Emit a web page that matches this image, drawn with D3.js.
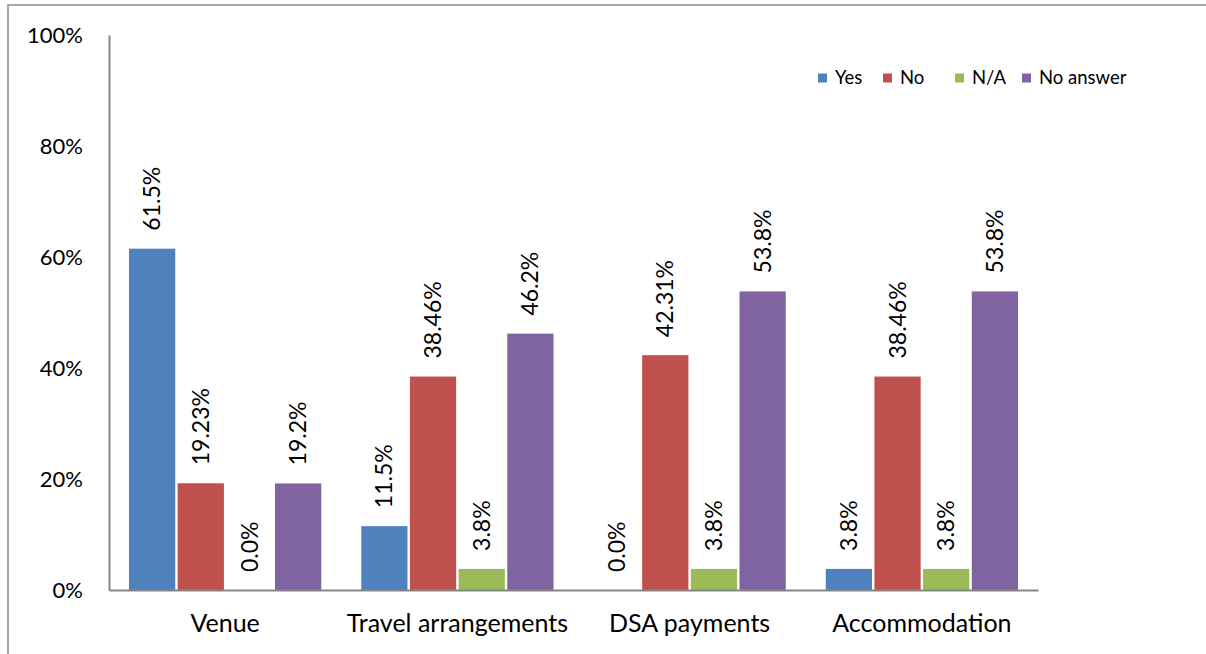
<!DOCTYPE html>
<html lang="en">
  <head>
    <meta charset="utf-8" />
    <script src="https://cdn.jsdelivr.net/npm/d3@7"></script>
    <style>
      body {
        margin: 0;
        background: #fff;
      }
      svg {
        font-family: Lato, "Open Sans", sans-serif;
      }
    </style>
  </head>
  <body>
    <svg width="1206" height="654"></svg>
    <script>
      // chart data
      var categories = ["Venue", "Travel arrangements", "DSA payments", "Accommodation"];
      var series = ["Yes", "No", "N/A", "No answer"];
      var yes = [61.5, 11.5, 0.0, 3.8];
      var no = [19.23, 38.46, 42.31, 38.46];
      var na = [0.0, 3.8, 3.8, 3.8];
      var noAnswer = [19.2, 46.2, 53.8, 53.8];
      var yTicks = [0, 20, 40, 60, 80, 100];

      var colors = ["#4F81BD", "#C0504D", "#9BBB59", "#8064A2"];
      var decimals = [1, 2, 1, 1];
      var values = [yes, no, na, noAnswer];

      var svg = d3.select("svg");
      var margin = { top: 35, left: 109, right: 168, bottom: 64 };
      var width = 1206 - margin.left - margin.right;
      var height = 654 - margin.top - margin.bottom;

      // outer frame
      svg
        .append("rect")
        .attr("x", 8)
        .attr("y", 5)
        .attr("width", 1210)
        .attr("height", 670)
        .attr("fill", "none")
        .attr("stroke", "#8c8c8c")
        .attr("stroke-width", 1.5);

      var g = svg
        .append("g")
        .attr("transform", "translate(" + margin.left + "," + margin.top + ")");

      var x0 = d3.scaleBand().domain(categories).range([0, width]);
      var gpad = 20;
      var x1 = d3
        .scaleBand()
        .domain(series)
        .range([gpad, x0.bandwidth() - gpad])
        .paddingInner(0.05);
      var y = d3.scaleLinear().domain([0, 100]).range([height, 0]);

      // y axis
      var yAxis = g
        .append("g")
        .call(
          d3
            .axisLeft(y)
            .tickValues(yTicks)
            .tickSize(0)
            .tickPadding(26)
            .tickFormat((d) => d + "%")
        );
      yAxis.select(".domain").attr("stroke", "#868686").attr("stroke-width", 2);
      yAxis
        .selectAll("text")
        .attr("font-size", "22px")
        .attr("font-family", "Lato, sans-serif")
        .attr("fill", "#000");

      // bars
      var rows = [];
      categories.forEach(function (c, i) {
        series.forEach(function (s, j) {
          rows.push({ cat: c, ser: s, j: j, v: values[j][i] });
        });
      });

      g.selectAll("rect.bar")
        .data(rows)
        .enter()
        .append("rect")
        .attr("class", "bar")
        .attr("x", (d) => x0(d.cat) + x1(d.ser))
        .attr("y", (d) => y(d.v))
        .attr("width", x1.bandwidth())
        .attr("height", (d) => height - y(d.v))
        .attr("fill", (d) => colors[d.j]);

      // value labels
      g.selectAll("text.lbl")
        .data(rows)
        .enter()
        .append("text")
        .attr("class", "lbl")
        .attr("transform", function (d) {
          var cx = x0(d.cat) + x1(d.ser) + x1.bandwidth() / 2;
          return "translate(" + cx + "," + (y(d.v) - 18) + ") rotate(-90)";
        })
        .attr("dy", "0.35em")
        .attr("font-size", "23px")
        .attr("text-anchor", "start")
        .text((d) => d.v.toFixed(decimals[d.j]) + "%");

      // x axis
      var xAxis = g
        .append("g")
        .attr("transform", "translate(0," + height + ")")
        .call(d3.axisBottom(x0).tickSize(0).tickPadding(24));
      xAxis.select(".domain").attr("stroke", "#868686").attr("stroke-width", 2);
      xAxis
        .selectAll("text")
        .attr("font-size", "25px")
        .attr("font-family", "Lato, sans-serif")
        .attr("fill", "#000");

      // legend
      var legendX = [818, 883, 955, 1022];
      var legend = svg
        .selectAll("g.legend")
        .data(series)
        .enter()
        .append("g")
        .attr("class", "legend")
        .attr("transform", (d, i) => "translate(" + legendX[i] + ",78)");
      legend
        .append("rect")
        .attr("x", 0)
        .attr("y", -4.5)
        .attr("width", 9)
        .attr("height", 9)
        .attr("fill", (d, i) => colors[i]);
      legend
        .append("text")
        .attr("x", 17)
        .attr("dy", "0.35em")
        .attr("font-size", "18.5px")
        .text((d) => d);
    </script>
  </body>
</html>
